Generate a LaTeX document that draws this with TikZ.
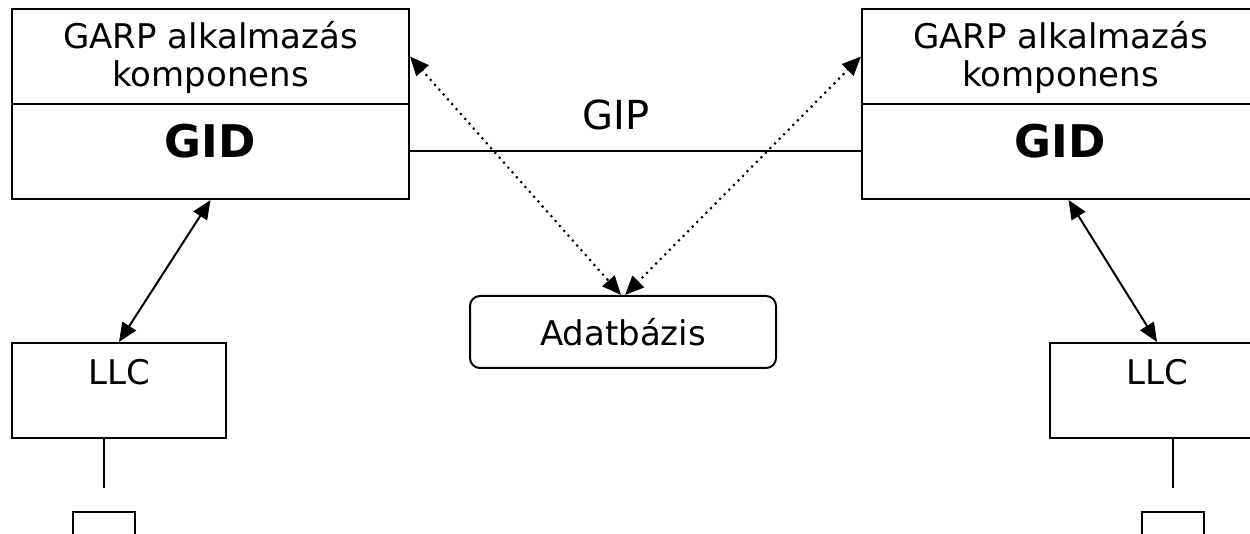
\documentclass[tikz,border=0pt]{standalone}
\usepackage{fontspec}
\setmainfont{DejaVu Sans}
\usepackage{tikz}
\usetikzlibrary{arrows.meta, positioning, calc}
\definecolor{myline}{HTML}{000000}
\definecolor{mypaper}{HTML}{FFFFFF}
\tikzset{
garpbox/.style={
draw=myline,
line width=2pt,
minimum width=397pt,
minimum height=95pt,
align=center,
font=\fontsize{34}{38}\selectfont,
inner sep=0pt
},
gidbox/.style={
draw=myline,
line width=2pt,
minimum width=397pt,
minimum height=95pt,
text depth=21pt,
font=\fontsize{45}{50}\selectfont\bfseries,
inner sep=0pt
},
llcbox/.style={
draw=myline,
line width=2pt,
minimum width=214pt,
minimum height=95pt,
text depth=38pt,
font=\fontsize{34}{38}\selectfont,
inner sep=0pt
},
dbbox/.style={
draw=myline,
line width=2pt,
rounded corners=10pt,
minimum width=306pt,
minimum height=72pt,
font=\fontsize{34}{38}\selectfont,
inner sep=0pt
},
portbox/.style={
draw=myline,
line width=2pt,
minimum width=62pt,
minimum height=56pt
},
link/.style={
{Triangle[length=19pt,width=16pt]}-{Triangle[length=19pt,width=16pt]},
line width=2pt,
draw=myline
},
dotlink/.style={
{Triangle[length=19pt,width=16pt]}-{Triangle[length=19pt,width=16pt]},
line width=3pt,
line cap=round,
dash pattern=on 0pt off 6.5pt,
draw=myline
},
plain/.style={
line width=2pt,
draw=myline
}
}
\begin{document}
\begin{tikzpicture}[x=1pt,y=-1pt]
\useasboundingbox[fill=mypaper] (0,0) rectangle (1250,534);
\clip (0,0) rectangle (1250,534);

% left station
\node[garpbox] (garpL) at (210.5,56.5) {\rule{0pt}{30pt}GARP alkalmazás\\komponens};
\node[gidbox] (gidL) at (210.5,151.5) {GID};
\node[llcbox] (llcL) at (119,390.5) {LLC};
\node[portbox] (portL) at (104,540) {};
\coordinate (tailL) at (104,488);

% right station
\node[garpbox] (garpR) at (1060.5,56.5) {\rule{0pt}{30pt}GARP alkalmazás\\komponens};
\node[gidbox] (gidR) at (1060.5,151.5) {GID};
\node[llcbox] (llcR) at (1157,390.5) {LLC};
\node[portbox] (portR) at (1173,540) {};
\coordinate (tailR) at (1173,488);

% shared database
\node[dbbox] (db) at (623,332) {Adatbázis};

\draw[plain] (gidL.east) -- (gidR.west)
  node[pos=0.457, anchor=south, inner sep=0pt, yshift=20pt,
       font=\fontsize{40}{44}\selectfont] (gip) {GIP};

\draw[link] (gidL.south) -- (llcL.north);
\draw[link] ([xshift=8pt]gidR.south) -- (llcR.north);

\draw[dotlink] (garpL.east) -- ([xshift=-2pt]db.north);
\draw[dotlink] ([xshift=2pt]db.north) -- (garpR.west);

\draw[plain] (llcL.south -| tailL) -- (tailL);
\draw[plain] (llcR.south -| tailR) -- (tailR);

\end{tikzpicture}
\end{document}
